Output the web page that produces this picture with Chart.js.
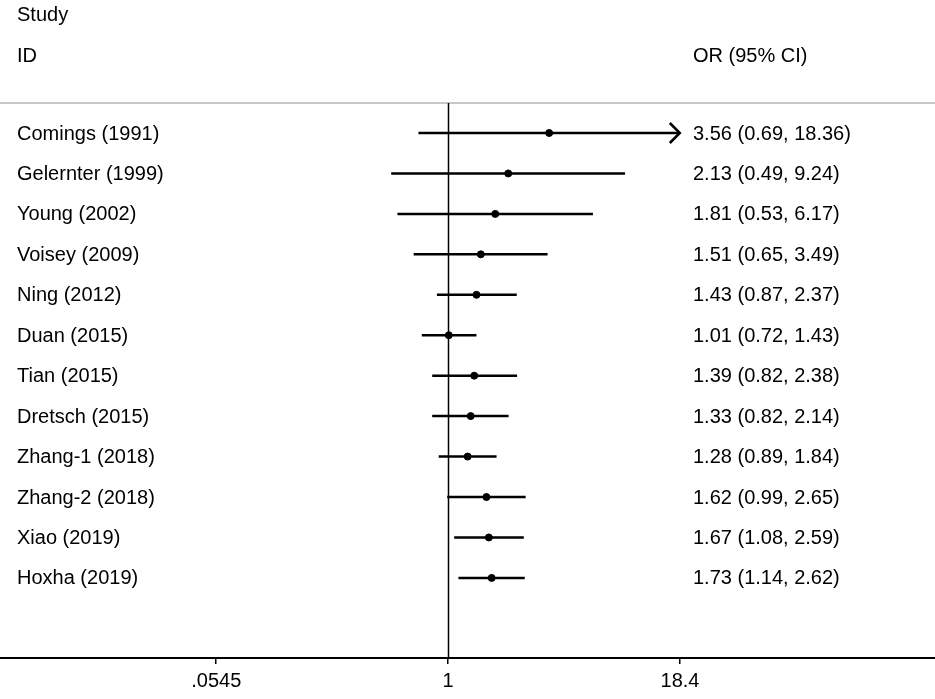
<!DOCTYPE html>
<html>
<head>
<meta charset="utf-8">
<script src="https://cdn.jsdelivr.net/npm/chart.js@4.4.1/dist/chart.umd.min.js"></script>
<style>
  html, body { margin: 0; padding: 0; background: #fff; }
  canvas { display: block; }
</style>
</head>
<body>
<canvas id="forest" width="935" height="699"></canvas>
<script>
const studies = ["Comings (1991)", "Gelernter (1999)", "Young (2002)", "Voisey (2009)", "Ning (2012)",
    "Duan (2015)", "Tian (2015)", "Dretsch (2015)", "Zhang-1 (2018)", "Zhang-2 (2018)", "Xiao (2019)", "Hoxha (2019)"];
const oddsRatios = [3.56, 2.13, 1.81, 1.51, 1.43, 1.01, 1.39, 1.33, 1.28, 1.62, 1.67, 1.73];
const lowerCI = [0.69, 0.49, 0.53, 0.65, 0.87, 0.72, 0.82, 0.82, 0.89, 0.99, 1.08, 1.14];
const upperCI = [18.36, 9.24, 6.17, 3.49, 2.37, 1.43, 2.38, 2.14, 1.84, 2.65, 2.59, 2.62];
const tickValues = [0.0545, 1, 18.4];
const tickLabels = [".0545", "1", "18.4"];
const truncated = [true, false, false, false, false, false, false, false, false, false, false, false];

const FONT = '20px "Liberation Sans", Arial, sans-serif';

// one line per study for the confidence interval
const ciSets = studies.map((s, i) => ({
    type: "line",
    label: s,
    data: [{ x: lowerCI[i], y: i }, { x: upperCI[i], y: i }],
    borderColor: "#000",
    borderWidth: 2.5,
    pointRadius: 0,
    showLine: true,
    order: 2
}));

const pointSet = {
    type: "scatter",
    label: "OR",
    data: oddsRatios.map((v, i) => ({ x: v, y: i })),
    backgroundColor: "#000",
    borderColor: "#000",
    pointRadius: 3.5,
    pointStyle: "circle",
    order: 1
};

const forestDecor = {
    id: "forestDecor",
    beforeDatasetsDraw(chart) {
        const { ctx, chartArea, scales } = chart;
        const x = scales.x;
        ctx.save();
        // header separator
        const topY = 103;
        ctx.strokeStyle = "#c8c8c8";
        ctx.lineWidth = 2;
        ctx.beginPath();
        ctx.moveTo(0, topY);
        ctx.lineTo(chart.width, topY);
        ctx.stroke();
        // no-effect line
        const x1 = Math.round(x.getPixelForValue(1)) + 0.5;
        ctx.strokeStyle = "#000";
        ctx.lineWidth = 1.5;
        ctx.beginPath();
        ctx.moveTo(x1, topY);
        ctx.lineTo(x1, chartArea.bottom);
        ctx.stroke();
        ctx.restore();
    },
    afterDatasetsDraw(chart) {
        const { ctx, scales } = chart;
        const x = scales.x, y = scales.y;
        ctx.save();
        // arrows for truncated intervals
        ctx.strokeStyle = "#000";
        ctx.lineWidth = 2.5;
        truncated.forEach((t, i) => {
            if (!t) return;
            const px = x.getPixelForValue(upperCI[i]);
            const py = y.getPixelForValue(i);
            ctx.beginPath();
            ctx.moveTo(px - 10, py - 10);
            ctx.lineTo(px, py);
            ctx.lineTo(px - 10, py + 10);
            ctx.stroke();
        });
        // text columns
        ctx.fillStyle = "#000";
        ctx.font = FONT;
        ctx.textBaseline = "middle";
        ctx.textAlign = "left";
        ctx.fillText("Study", 17, 15);
        ctx.fillText("ID", 17, 56);
        ctx.fillText("OR (95% CI)", 693, 56);
        studies.forEach((s, i) => {
            const py = y.getPixelForValue(i) + 1;
            ctx.fillText(s, 17, py);
            const txt = oddsRatios[i].toFixed(2) + " (" + lowerCI[i].toFixed(2) + ", " + upperCI[i].toFixed(2) + ")";
            ctx.fillText(txt, 693, py);
        });
        ctx.restore();
    }
};

new Chart(document.getElementById("forest"), {
    type: "scatter",
    data: { datasets: [...ciSets, pointSet] },
    options: {
        responsive: false,
        animation: false,
        devicePixelRatio: 1,
        layout: { autoPadding: false, padding: { left: 0, right: 0, top: 0, bottom: 1 } },
        plugins: { legend: { display: false }, tooltip: { enabled: false } },
        scales: {
            x: {
                type: "logarithmic",
                min: 0.00361,
                max: 452,
                afterBuildTicks(scale) {
                    scale.ticks = tickValues.map(v => ({ value: v }));
                },
                ticks: {
                    autoSkip: false,
                    maxRotation: 0,
                    padding: 5,
                    color: "#000",
                    font: { family: '"Liberation Sans", Arial, sans-serif', size: 20 },
                    callback(value) {
                        const k = tickValues.indexOf(value);
                        return k >= 0 ? tickLabels[k] : "";
                    }
                },
                grid: { display: true, drawOnChartArea: false, drawTicks: true, tickLength: 6, color: "#000", lineWidth: 1.5 },
                border: { display: true, color: "#000", width: 2 }
            },
            y: {
                type: "linear",
                reverse: true,
                min: -3.288,
                max: 12.98,
                display: false
            }
        }
    },
    plugins: [forestDecor]
});
</script>
</body>
</html>
